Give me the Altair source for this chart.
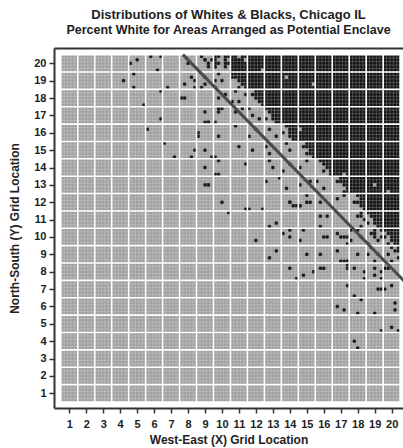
import math
import altair as alt
import pandas as pd

N = 20          # grid cells per side
S = 5           # sub-areas per cell side

# ---- data ----
# rows that are fully dark from a given column onward
dark_row = [20, 19, 18, 17, 16, 15, 14, 13, 12, 11]
dark_start = [11, 12, 13, 14, 15, 16, 17, 18, 19, 20]

# partially dark boundary cells: 5 sub-rows, top to bottom, '#' = black
partial_col = [10, 11, 12, 13, 14, 15, 16, 17, 18, 19, 18, 20, 19, 18, 20, 19]
partial_row = [20, 19, 18, 17, 16, 15, 14, 13, 12, 11, 11, 10, 10, 10, 9, 9]
partial_mask = [
    "##.##/#..#./##.##/#..#./.....",
    "#####/#####/..###/...##/..#.#",
    "..###/.####/..###/...##/....#",
    "#####/.####/..###/#.###/...##",
    ".####/..###/#.###/..###/...##",
    "..###/.####/...##/..###/....#",
    ".####/..###/...##/..#.#/....#",
    "..###/.####/...##/....#/...##",
    "..###/...##/.####/...##/....#",
    "#####/.####/..###/#.###/...##",
    "...#./..##./....#/...../...#.",
    "#####/.####/#.###/..###/.#.##",
    "..#.#/.##../..#.#/...#./#....",
    "#.#../...../...#./#..../.....",
    "..#.#/...##/.#.../....#/..#..",
    ".#.../...../#..#./...../..#..",
]

# isolated black sub-areas (grid units)
dot_x = [4.29, 4.52, 4.93, 4.74, 4.71, 5.30, 5.71, 6.30, 6.11, 6.30, 6.30, 5.54, 6.56, 6.76, 7.13,
         7.58, 7.78, 7.76, 8.15, 8.33, 8.33, 7.98, 8.15, 8.35, 8.57, 8.66, 8.80, 8.98, 8.98, 9.10,
         9.23, 9.00, 9.37, 9.59, 8.98, 8.95, 9.10, 9.20, 9.59, 9.80, 9.80, 9.82, 9.59, 9.70, 9.80,
         8.70, 8.90, 9.10, 9.30, 9.50,
         8.99, 9.29, 9.53, 8.90, 9.53, 9.09, 9.78, 10.08, 9.68, 9.88, 10.17, 10.57, 10.76, 11.06,
         11.35, 10.76, 11.25, 11.65, 11.84, 12.14, 9.98, 10.86, 12.04, 12.83, 13.12, 11.65, 11.75,
         12.63, 12.83, 13.81, 14.00, 11.06, 11.45, 12.73, 13.02, 13.61, 14.00, 14.59, 14.99, 12.63,
         13.81, 14.59, 15.18, 15.58, 15.97, 13.42, 13.91, 14.99, 15.77, 16.75, 17.15, 14.59,
         9.98, 10.37, 11.35, 11.65, 12.40, 12.04, 12.83, 13.22, 12.83, 13.22, 13.65, 14.00, 14.05,
         13.90, 14.14, 14.44, 14.60, 14.69, 14.89, 14.99, 15.18, 14.95, 14.05, 14.44, 14.89, 15.48,
         15.87, 16.07, 15.71, 15.71, 15.97, 16.13, 15.85, 16.23, 16.72, 16.76, 16.95, 17.15, 17.35,
         17.44, 17.94, 17.07, 17.21, 17.35, 17.48, 17.35, 17.44, 17.85, 17.48, 16.72, 17.29, 17.70,
         17.90, 18.19, 17.70, 17.90, 18.48, 18.48, 18.91, 19.01, 18.96, 19.31, 19.41, 19.21, 19.36,
         19.50, 19.60, 19.86, 19.96, 20.13, 20.19, 19.49, 19.96, 20.49]
dot_y = [19.08, 20.05, 20.25, 19.42, 18.67, 17.67, 20.46, 20.46, 19.67, 18.42, 16.83, 16.22, 15.41, 18.67, 14.62,
         18.04, 18.04, 18.88, 19.23, 19.02, 18.67, 19.90, 14.62, 15.02, 15.85, 15.97, 18.67, 17.24, 16.64, 16.64,
         16.64, 15.02, 14.62, 14.62, 14.01, 13.01, 13.01, 13.01, 13.61, 13.61, 14.43, 15.85, 16.64, 17.40, 17.10,
         20.30, 20.10, 19.70, 20.20, 19.90,
         20.23, 20.03, 19.80, 19.23, 19.04, 18.75, 19.42, 19.04, 18.65, 18.08, 18.27, 17.79, 18.36, 17.88,
         18.17, 17.12, 17.40, 17.31, 17.02, 16.73, 17.31, 16.35, 16.16, 16.16, 15.87, 15.77, 14.91,
         15.20, 14.81, 15.39, 14.91, 15.20, 14.24, 14.43, 14.05, 13.85, 14.24, 14.05, 14.33, 13.28,
         12.89, 13.09, 13.28, 13.28, 12.89, 13.47, 12.03, 12.32, 11.93, 12.13, 12.32, 11.74,
         11.97, 11.36, 11.61, 11.61, 11.61, 9.73, 10.59, 10.79, 8.71, 9.12, 10.15, 10.30, 9.96,
         11.97, 11.84, 11.84, 11.84, 9.73, 10.30, 12.03, 12.03, 9.09, 8.10, 7.52, 7.71, 7.94,
         8.10, 8.29, 9.09, 10.59, 9.93, 9.93, 11.27, 11.27, 9.12, 10.11, 10.02, 9.93, 9.93,
         9.69, 9.09, 8.62, 8.62, 8.62, 8.62, 8.39, 8.20, 8.29, 7.24, 6.08, 5.89, 6.53,
         5.51, 6.33, 3.91, 3.68, 8.04, 7.52, 8.29, 7.71, 5.51, 7.91, 7.52, 7.02, 7.05,
         7.02, 8.29, 8.10, 7.10, 6.27, 5.89, 4.51, 4.70, 4.51]

# light sub-areas inside the dark block
speck_x = [11.00, 11.30, 11.45, 12.43, 13.70, 15.30, 14.60, 17.15, 18.90, 19.70]
speck_y = [20.30, 20.10, 20.29, 19.50, 19.20, 18.70, 16.26, 13.67, 13.09, 12.60]

# reference diagonal
line_x = [7.7, 20.9]
line_y = [20.5, 7.3]

ticks = list(range(1, N + 1))
FONT = "Liberation Sans"

# ---- tables ----
start_of = dict(zip(dark_row, dark_start))
cells = []
for r in range(1, N + 1):
    for c in range(1, N + 1):
        cells.append(dict(x=c - 0.5, x2=c + 0.5, y=r - 0.5, y2=r + 0.5,
                          kind="dark" if c >= start_of.get(r, N + 1) else "light"))
cells = pd.DataFrame(cells)

def sub(i, k, kind):
    return dict(x=0.5 + i / S, x2=0.5 + (i + 1) / S, y=0.5 + k / S, y2=0.5 + (k + 1) / S, kind=kind)

subs = []
for c, r, m in zip(partial_col, partial_row, partial_mask):
    for j, line in enumerate(m.split("/")):
        for i, ch in enumerate(line):
            if ch == "#":
                subs.append(sub((c - 1) * S + i, (r - 1) * S + (S - 1 - j), "dark"))
for x, y in zip(dot_x, dot_y):
    subs.append(sub(min(int(math.floor((x - 0.5) * S)), N * S - 1),
                    min(int(math.floor((y - 0.5) * S)), N * S - 1), "dark"))
for x, y in zip(speck_x, speck_y):
    subs.append(sub(int(math.floor((x - 0.5) * S)), int(math.floor((y - 0.5) * S)), "light"))
subs = pd.DataFrame(subs)

fine = pd.DataFrame({"p": [0.5 + k / S for k in range(N * S + 1)]})
fine["lo"], fine["hi"] = 0.5, N + 0.5
major = pd.DataFrame({"p": [0.5 + k for k in range(N + 1)]})
major["lo"], major["hi"] = 0.5, N + 0.5
diag = pd.DataFrame({"x": line_x, "y": line_y})

xs = alt.Scale(domain=[0.1, 20.67], nice=False, zero=False)
ys = alt.Scale(domain=[0.155, 20.88], nice=False, zero=False)
col = alt.Scale(domain=["light", "dark"], range=["#a0a0a0", "#141414"])

xaxis = alt.Axis(values=ticks, title="West-East (X) Grid Location", grid=False,
                 labelPadding=5, titlePadding=5, tickSize=5)
yaxis = alt.Axis(values=ticks, title="North-South (Y) Grid Location", grid=False,
                 labelPadding=3, titlePadding=12, tickSize=5)

base = alt.Chart(cells).mark_rect(strokeWidth=0).encode(
    x=alt.X("x:Q", scale=xs, axis=xaxis), x2="x2",
    y=alt.Y("y:Q", scale=ys, axis=yaxis), y2="y2",
    color=alt.Color("kind:N", scale=col, legend=None),
)
subl = alt.Chart(subs).mark_rect(strokeWidth=0).encode(
    x=alt.X("x:Q", scale=xs, axis=None), x2="x2",
    y=alt.Y("y:Q", scale=ys, axis=None), y2="y2",
    color=alt.Color("kind:N", scale=col, legend=None),
)
fv = alt.Chart(fine).mark_rule(color="white", opacity=0.35, strokeWidth=0.6).encode(
    x=alt.X("p:Q", scale=xs, axis=None), y=alt.Y("lo:Q", scale=ys, axis=None), y2="hi")
fh = alt.Chart(fine).mark_rule(color="white", opacity=0.35, strokeWidth=0.6).encode(
    y=alt.Y("p:Q", scale=ys, axis=None), x=alt.X("lo:Q", scale=xs, axis=None), x2="hi")
mv = alt.Chart(major).mark_rule(color="white", strokeWidth=1.6).encode(
    x=alt.X("p:Q", scale=xs, axis=None), y=alt.Y("lo:Q", scale=ys, axis=None), y2="hi")
mh = alt.Chart(major).mark_rule(color="white", strokeWidth=1.6).encode(
    y=alt.Y("p:Q", scale=ys, axis=None), x=alt.X("lo:Q", scale=xs, axis=None), x2="hi")
dl = alt.Chart(diag).mark_line(color="#4a4a4a", strokeWidth=3, clip=True).encode(
    x=alt.X("x:Q", scale=xs, axis=alt.Axis(orient="top", labels=False, ticks=False,
                                             title=None, grid=False, domain=True)),
    y=alt.Y("y:Q", scale=ys, axis=None),
)

chart = alt.layer(base, subl, fv, fh, mv, mh, dl).resolve_axis(
    x="independent", y="independent"
).properties(
    width=349, height=360,
    autosize=alt.AutoSizeParams(type="none"),
    padding={"left": 54, "top": 48, "right": 0, "bottom": 40},
    title=alt.TitleParams(
        text="Distributions of Whites & Blacks, Chicago IL",
        subtitle="Percent White for Areas Arranged as Potential Enclave",
        font=FONT, fontSize=13, fontWeight="bold", color="#222",
        subtitleFont=FONT, subtitleFontSize=12.5, subtitleFontWeight="bold", subtitleColor="#222",
        subtitlePadding=2, anchor="middle", frame="group", offset=12,
    ),
).configure_view(stroke=None).configure_axis(
    labelFont=FONT, labelFontSize=11, labelFontWeight="bold", labelColor="#222",
    titleFont=FONT, titleFontSize=12, titleFontWeight="bold", titleColor="#222",
    tickColor="#333", tickWidth=1.5, domainColor="#333", domainWidth=2,
)

chart.save("out.html", embed_options={"renderer": "svg", "actions": False})
